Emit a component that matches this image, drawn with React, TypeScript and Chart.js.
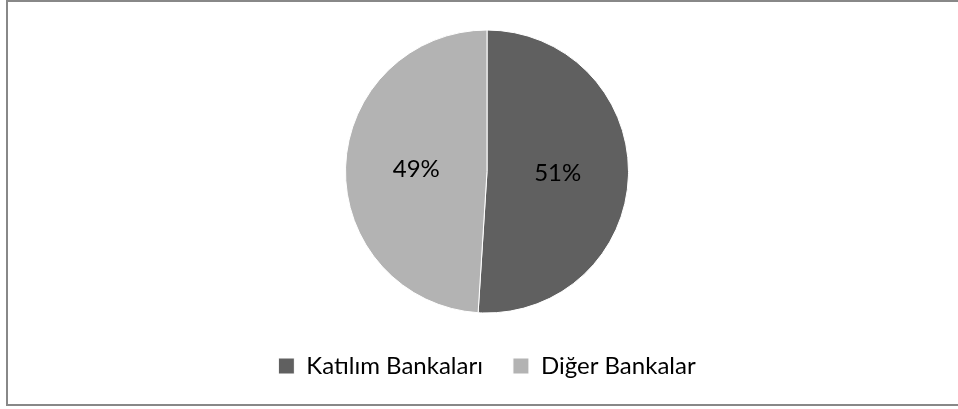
import React, { useEffect, useRef } from "react";
import { Chart, registerables } from "chart.js";

Chart.register(...registerables);

const categories: string[] = ["Katılım Bankaları", "Diğer Bankalar"];
const shares: number[] = [51, 49];
const sliceColors: string[] = ["#606060", "#b3b3b3"];

const FONT = "Lato, 'Open Sans', sans-serif";

const pctLabels = {
  id: "pctLabels",
  afterDatasetsDraw(chart: any) {
    const ctx = chart.ctx;
    const meta = chart.getDatasetMeta(0);
    const data = chart.data.datasets[0].data as number[];
    const total = data.reduce((a, b) => a + b, 0);
    ctx.save();
    ctx.font = `24px ${FONT}`;
    ctx.fillStyle = "#000000";
    ctx.textAlign = "center";
    ctx.textBaseline = "middle";
    meta.data.forEach((arc: any, i: number) => {
      const p = arc.getCenterPoint();
      const pct = Math.round((data[i] / total) * 100);
      ctx.fillText(`${pct}%`, p.x, p.y);
    });
    ctx.restore();
  },
};

export default function App() {
  const ref = useRef<HTMLCanvasElement | null>(null);

  useEffect(() => {
    document.documentElement.style.overflow = "hidden";
    document.body.style.overflow = "hidden";
    const canvas = ref.current!;
    const chart = new Chart(canvas, {
      type: "pie",
      data: {
        labels: categories,
        datasets: [
          {
            data: shares,
            backgroundColor: sliceColors,
            borderColor: "#ffffff",
            borderWidth: 1,
            radius: 141.5,
          },
        ],
      },
      options: {
        responsive: false,
        animation: false,
        layout: { padding: { top: 17, bottom: 16, left: 2, right: 0 } },
        plugins: {
          tooltip: { enabled: false },
          legend: {
            position: "bottom",
            labels: {
              boxWidth: 16,
              boxHeight: 16,
              padding: 30,
              color: "#000000",
              font: { family: FONT, size: 24 },
            },
          },
        },
      },
      plugins: [pctLabels],
    });
    return () => chart.destroy();
  }, []);

  return (
    <div
      style={{
        position: "fixed",
        left: 6,
        top: 0,
        width: 962,
        height: 406,
        border: "2px solid #888888",
        boxSizing: "border-box",
        background: "#ffffff",
      }}
    >
      <canvas ref={ref} width={956} height={402} style={{ display: "block" }} />
    </div>
  );
}
